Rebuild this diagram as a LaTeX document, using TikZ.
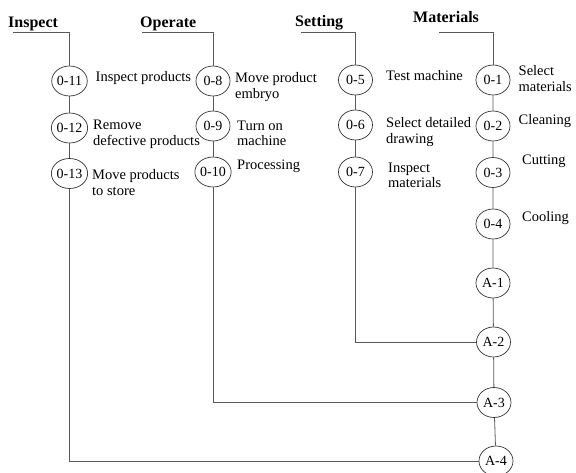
\documentclass[tikz,border=0pt]{standalone}
\usepackage{fontspec}
\setmainfont{Liberation Serif}
\usetikzlibrary{shapes.geometric}
\tikzset{
	op/.style={ellipse, draw=black!80, line width=0.7pt, minimum width=34pt, minimum height=30pt, inner sep=0pt, font=\fontsize{14}{16}\selectfont},
	txt/.style={anchor=base west, align=left, inner sep=0pt, font=\fontsize{14.5}{15.5}\selectfont},
	hdr/.style={anchor=base west, inner sep=0pt, font=\fontsize{16}{18}\selectfont\bfseries},
	ln/.style={draw=black!65, line width=0.8pt}
}
\begin{document}
\begin{tikzpicture}[x=1pt,y=-1pt]
			\useasboundingbox (0,0) rectangle (576,473);

			\node[hdr] (hInsp) at (8,28) {Inspect};
			\node[hdr] (hOper) at (140,28) {Operate};
			\node[hdr] (hSet) at (295,27) {Setting};
			\node[hdr] (hMat) at (413,23) {Materials};
			\coordinate (tInsp) at (13,32);
			\coordinate (tOper) at (142,32);
			\coordinate (tSet) at (301,32);
			\coordinate (tMat) at (439,32);

			\node[op] (o11) at (69.5,81) {0-11};
			\node[op] (o12) at (69.5,128) {0-12};
			\node[op] (o13) at (69.5,173.5) {0-13};
			\node[op] (o8) at (213,81) {0-8};
			\node[op] (o9) at (213,126) {0-9};
			\node[op] (o10) at (213,172) {0-10};
			\node[op] (o5) at (355.5,80) {0-5};
			\node[op] (o6) at (355.5,125) {0-6};
			\node[op] (o7) at (355.5,172) {0-7};
			\node[op] (o1) at (493,80) {0-1};
			\node[op] (o2) at (493,126) {0-2};
			\node[op] (o3) at (493,172.5) {0-3};
			\node[op] (o4) at (493,224) {0-4};
			\node[op] (a1) at (493,283) {A-1};
			\node[op] (a2) at (493.5,342) {A-2};
			\node[op] (a3) at (494,402.5) {A-3};
			\node[op] (a4) at (496,461) {A-4};

			\node[txt] (l11) at (95.5,82) {Inspect products};
			\node[txt] (l12) at (93,145.5) {Remove\\defective products};
			\node[txt] (l13) at (92,195.5) {Move products\\to store};
			\node[txt] (l8) at (235,98.5) {Move product\\embryo};
			\node[txt] (l9) at (237,146) {Turn on\\machine};
			\node[txt] (l10) at (237,170) {Processing};
			\node[txt] (l5) at (386,80.5) {Test machine};
			\node[txt] (l6) at (386,143.5) {Select detailed\\drawing};
			\node[txt] (l7) at (388,188) {Inspect\\materials};
			\node[txt] (l1) at (518.5,91.5) {Select\\materials};
			\node[txt] (l2) at (518.5,125) {Cleaning};
			\node[txt] (l3) at (522,165) {Cutting};
			\node[txt] (l4) at (522,221.5) {Cooling};

			\draw[ln] (tInsp) -| (o11);
			\draw[ln] (tOper) -| (o8);
			\draw[ln] (tSet) -| (o5);
			\draw[ln] (tMat) -| (o1);
			\draw[ln] (o11) -- (o12) -- (o13);
			\draw[ln] (o8) -- (o9) -- (o10);
			\draw[ln] (o5) -- (o6) -- (o7);
			\draw[ln] (o1) -- (o2) -- (o3) -- (o4) -- (a1) -- (a2) -- (a3) -- (a4);
			\draw[ln] (o7) |- (a2);
			\draw[ln] (o10) |- (a3);
			\draw[ln] (o13) |- (a4);
	\end{tikzpicture}
\end{document}
